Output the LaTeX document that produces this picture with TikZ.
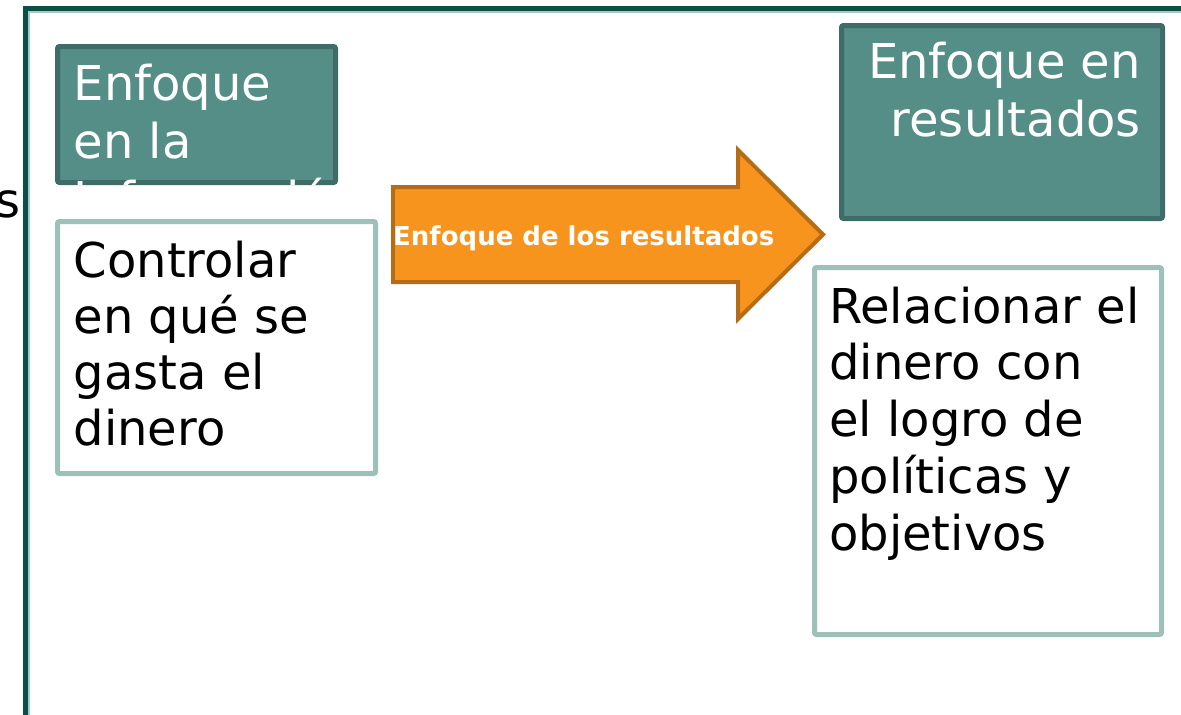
\documentclass[tikz,border=0pt]{standalone}
\usepackage{fontspec}
\setmainfont{DejaVu Sans}
\definecolor{framegreen}{HTML}{0B5046}
\definecolor{framepale}{HTML}{A9C9C2}
\definecolor{tealfill}{HTML}{548E86}
\definecolor{tealline}{HTML}{3F6C66}
\definecolor{paleline}{HTML}{9DC1B9}
\definecolor{arrowfill}{HTML}{F7941E}
\definecolor{arrowline}{HTML}{B86B17}
\begin{document}
\begin{tikzpicture}
[x=1pt,y=-1pt,
 headbox/.style={draw=tealline,fill=tealfill,line width=5pt,rounded corners=2pt,anchor=north west,inner sep=0pt},
 bodybox/.style={draw=paleline,fill=white,line width=5pt,rounded corners=2pt,anchor=north west,inner sep=0pt},
 bigtext/.style={inner sep=0pt,font=\fontsize{48}{56}\selectfont},
 headtext/.style={bigtext,text=white},
 arrowshape/.style={draw=arrowline,fill=arrowfill,line width=4pt,line join=miter},
 arrowtext/.style={inner sep=0pt,text=white,font=\fontsize{26}{30}\selectfont\bfseries}]
\useasboundingbox (0,0) rectangle (1181,715);
%% frame
\draw[framepale,line width=1.5pt] (29,720) -- (29,12) -- (1185,12);
\draw[framegreen,line width=5pt] (25.5,720) -- (25.5,8) -- (1185,8);
\node[bigtext,anchor=base east] (cut) at (21,217) {s};
%% boxes
\node[headbox,minimum width=278,minimum height=136] (infohead) at (55,44) {};
\node[bodybox,minimum width=318,minimum height=252] (ctrlbox) at (55,219) {};
\node[headbox,minimum width=321,minimum height=193] (resulthead) at (839,23) {};
\node[bodybox,minimum width=347,minimum height=367] (relbox) at (812,265) {};
%% arrow
\draw[arrowshape] (393,187) -- (738,187) -- (738,150) -- (823,234.5)
  -- (738,319) -- (738,282) -- (393,282) -- cycle;
\node[arrowtext,anchor=base west] (focus) at (393,245) {Enfoque de los resultados};
%% texts
\begin{scope}
\clip (50,40) rectangle (340,184);
\foreach \txt [count=\i] in {Enfoque,en la,Información} {
  \node[headtext,anchor=base west] (info\i) at (73.5,{100+58*(\i-1)}) {\txt};
}
\end{scope}
\foreach \txt [count=\i] in {Enfoque en,resultados} {
  \node[headtext,anchor=base east] (result\i) at (1141,{78+58*(\i-1)}) {\txt};
}
\foreach \txt [count=\i] in {Controlar,en qué se,gasta el,dinero} {
  \node[bigtext,anchor=base west] (ctrl\i) at (73.5,{277+56.3*(\i-1)}) {\txt};
}
\foreach \txt [count=\i] in {Relacionar el,dinero con,el logro de,políticas y,objetivos} {
  \node[bigtext,anchor=base west] (rel\i) at (829,{323+56.8*(\i-1)}) {\txt};
}
\end{tikzpicture}
\end{document}
